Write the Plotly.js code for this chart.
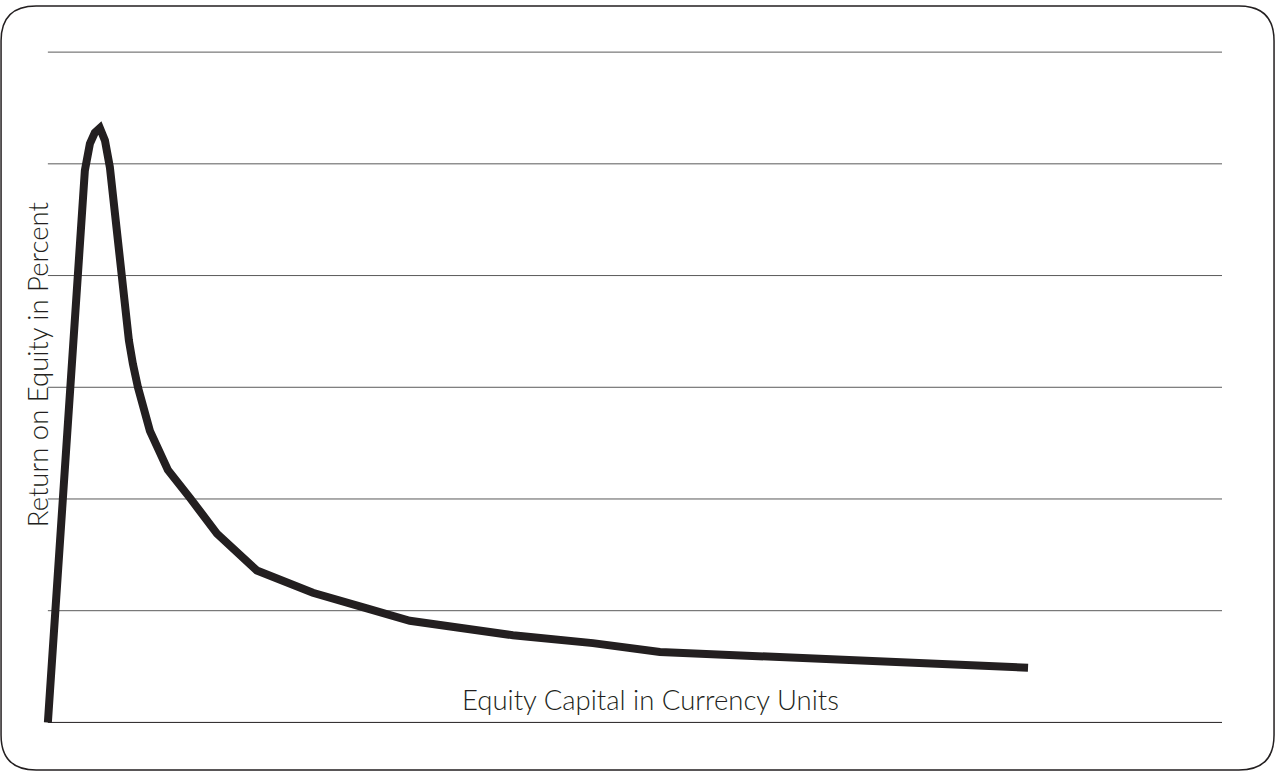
<!DOCTYPE html>
<html>
<head>
<meta charset="utf-8">
<script src="https://cdn.plot.ly/plotly-3.0.1.min.js"></script>
<style>
  html, body { margin: 0; padding: 0; background: #fff; }
  #roe-plot { width: 1275px; height: 772px; }
</style>
</head>
<body>
<div id="roe-plot"></div>
<script>
// equity capital (arbitrary units, 0..100) and return on equity (arbitrary units, 0..6)
var equityCapital = [0, 2.9, 3.15, 3.58, 4.0, 4.43, 4.86, 5.28, 5.71, 6.1, 6.3, 6.56,
  6.9, 7.24, 7.67, 8.69, 10.22, 12.1, 14.4, 17.8, 21.47, 22.57, 27.17, 30.83, 39.61,
  46.42, 52.13, 62.61, 74.02, 83.48];
var returnOnEquity = [0, 4.5, 4.94, 5.18, 5.28, 5.32, 5.21, 4.97, 4.58, 4.2, 3.95, 3.66,
  3.42, 3.21, 3.0, 2.61, 2.26, 2.01, 1.69, 1.36, 1.2, 1.16, 1.02, 0.91, 0.78,
  0.71, 0.63, 0.58, 0.54, 0.49];
var gridValues = [0, 1, 2, 3, 4, 5, 6];
var gridStart = 0;
var gridEnd = 100;

var xTitle = 'Equity Capital in Currency Units';
var yTitle = 'Return on Equity in Percent';

function roundedFrame(x0, y0, x1, y1, rx, ry) {
  return 'M ' + (x0 + rx) + ' ' + y1 +
    ' L ' + (x1 - rx) + ' ' + y1 +
    ' Q ' + x1 + ' ' + y1 + ' ' + x1 + ' ' + (y1 - ry) +
    ' L ' + x1 + ' ' + (y0 + ry) +
    ' Q ' + x1 + ' ' + y0 + ' ' + (x1 - rx) + ' ' + y0 +
    ' L ' + (x0 + rx) + ' ' + y0 +
    ' Q ' + x0 + ' ' + y0 + ' ' + x0 + ' ' + (y0 + ry) +
    ' L ' + x0 + ' ' + (y1 - ry) +
    ' Q ' + x0 + ' ' + y1 + ' ' + (x0 + rx) + ' ' + y1 + ' Z';
}

function drawRoePlot() {
  var plotData = [{
    x: equityCapital,
    y: returnOnEquity,
    type: 'scatter',
    mode: 'lines',
    line: { color: '#231f20', width: 8, shape: 'linear' },
    hoverinfo: 'skip'
  }];

  // horizontal rules, drawn from 0 to 100 on the x axis so the line's stroke is not clipped
  var shapes = gridValues.map(function (v) {
    return {
      type: 'line', xref: 'x', yref: 'y',
      x0: gridStart, x1: gridEnd, y0: v, y1: v,
      line: { color: v === 0 ? '#231f20' : '#5a5a5a', width: 1 },
      layer: 'below'
    };
  });

  shapes.push({
    type: 'path',
    xref: 'paper',
    yref: 'paper',
    path: roundedFrame(-0.0347, -0.062, 1.0441, 1.0665, 0.0297, 0.0517),
    line: { color: '#231f20', width: 1.5 },
    fillcolor: 'rgba(0,0,0,0)',
    layer: 'below'
  });

  var titleFont = { family: 'Lato, "Open Sans", sans-serif', size: 27.5, weight: 300, color: '#231f20' };

  var layout = {
    width: 1275,
    height: 772,
    margin: { l: 42, r: 53, t: 51, b: 44 },
    paper_bgcolor: '#ffffff',
    plot_bgcolor: '#ffffff',
    showlegend: false,
    xaxis: {
      range: [-0.5, 100],
      showgrid: false,
      zeroline: false,
      showticklabels: false,
      ticks: '',
      showline: false
    },
    yaxis: {
      range: [-0.05, 6.01],
      showgrid: false,
      zeroline: false,
      showticklabels: false,
      ticks: '',
      showline: false
    },
    shapes: shapes,
    annotations: [{
      text: xTitle,
      xref: 'paper', yref: 'paper',
      x: 0.516, y: 0.0428,
      xanchor: 'center', yanchor: 'middle',
      showarrow: false,
      font: titleFont
    }, {
      text: yTitle,
      xref: 'paper', yref: 'paper',
      x: -0.0042, y: 0.536,
      xanchor: 'center', yanchor: 'middle',
      textangle: -90,
      showarrow: false,
      font: titleFont
    }]
  };

  Plotly.newPlot('roe-plot', plotData, layout, { displayModeBar: false, staticPlot: true });
}

document.addEventListener('DOMContentLoaded', drawRoePlot);
</script>
</body>
</html>
